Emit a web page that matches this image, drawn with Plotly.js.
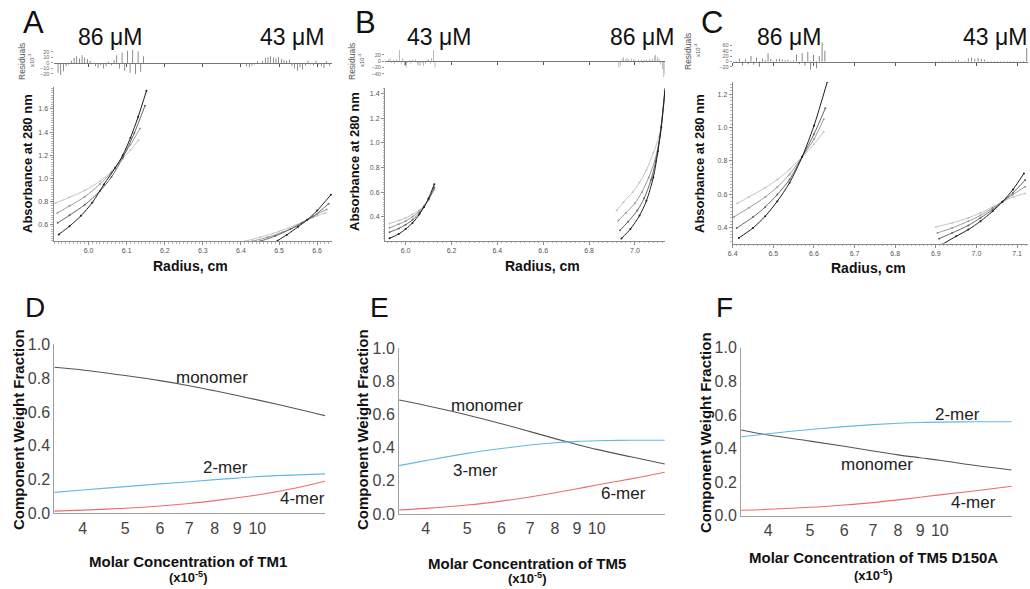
<!DOCTYPE html>
<html><head><meta charset="utf-8">
<script src="https://cdn.plot.ly/plotly-3.0.1.min.js"></script>
<style>html,body{margin:0;padding:0;background:#fff}#plot{width:1030px;height:589px}</style>
</head><body><div id="plot"></div>
<script>
// ---------- Panel A : absorbance scans (86 uM left, 43 uM right) ----------
const aL_x1 = [5.913, 5.95, 5.99, 6.03, 6.06, 6.09, 6.11, 6.131];
const aL_light = [0.786, 0.835, 0.895, 0.975, 1.06, 1.17, 1.245, 1.328];
const aL_x2 = [5.918, 5.95, 5.99, 6.03, 6.06, 6.09, 6.11, 6.135];
const aL_gray = [0.70, 0.76, 0.84, 0.95, 1.05, 1.19, 1.29, 1.43];
const aL_x3 = [5.919, 5.95, 5.99, 6.03, 6.06, 6.09, 6.12, 6.148];
const aL_dark = [0.614, 0.68, 0.77, 0.89, 1.01, 1.18, 1.39, 1.628];
const aL_x4 = [5.922, 5.95, 5.98, 6.01, 6.04, 6.07, 6.09, 6.11, 6.13, 6.152];
const aL_black = [0.514, 0.585, 0.675, 0.79, 0.945, 1.09, 1.2, 1.35, 1.53, 1.757];

const aR_x1 = [6.41, 6.45, 6.50, 6.54, 6.574, 6.60, 6.622];
const aR_light = [0.455, 0.49, 0.54, 0.59, 0.64, 0.675, 0.70];
const aR_x2 = [6.43, 6.47, 6.51, 6.55, 6.574, 6.60, 6.625];
const aR_gray = [0.455, 0.49, 0.535, 0.59, 0.64, 0.69, 0.73];
const aR_x3 = [6.45, 6.49, 6.53, 6.56, 6.59, 6.63];
const aR_dark = [0.455, 0.50, 0.56, 0.615, 0.67, 0.78];
const aR_x4 = [6.496, 6.52, 6.55, 6.574, 6.60, 6.636];
const aR_black = [0.46, 0.51, 0.58, 0.64, 0.72, 0.857];

const resA_Lx = [5.920,5.927,5.934,5.941,5.948,5.955,5.962,5.969,5.976,5.983,5.990,5.997,6.004,6.011,6.018,6.025,6.032,6.039,6.046,6.053,6.060,6.067,6.074,6.081,6.088,6.095,6.102,6.109,6.116,6.123,6.130,6.137,6.144];
const resA_Ly = [-18,-22,-15,-6,-3,4,9,12,8,14,10,7,4,-2,-6,-9,-4,-10,-6,2,-4,5,14,-10,19,-14,22,-18,24,-20,21,-16,12];
const resA_Rx = [6.415,6.422,6.429,6.436,6.443,6.450,6.457,6.464,6.471,6.478,6.485,6.492,6.499,6.506,6.513,6.520,6.527,6.534,6.541,6.548,6.555,6.562,6.569,6.576,6.583,6.590,6.597,6.604,6.611,6.618,6.625,6.632];
const resA_Ry = [-6,-8,-5,-3,3,-2,4,9,11,12,10,8,11,7,5,4,6,-6,-10,-14,-8,-12,-5,4,-3,-5,4,-3,-6,-9,3,-5];

// ---------- Panel B : absorbance scans (43 uM left, 86 uM right) ----------
const bL_x = [5.93, 5.97, 6.0, 6.03, 6.06, 6.08, 6.10, 6.125];
const bL_light = [0.345, 0.37, 0.39, 0.42, 0.455, 0.49, 0.54, 0.62];
const bL_gray = [0.31, 0.34, 0.365, 0.40, 0.445, 0.485, 0.54, 0.63];
const bL_dark = [0.275, 0.305, 0.335, 0.375, 0.43, 0.48, 0.54, 0.64];
const bL_black = [0.225, 0.26, 0.30, 0.35, 0.42, 0.48, 0.55, 0.665];

const bR_x1 = [6.92, 6.95, 6.99, 7.02, 7.05, 7.08, 7.105, 7.13];
const bR_light = [0.45, 0.52, 0.60, 0.68, 0.78, 0.92, 1.05, 1.38];
const bR_x2 = [6.928, 6.96, 7.0, 7.03, 7.06, 7.09, 7.11, 7.13];
const bR_gray = [0.37, 0.43, 0.51, 0.60, 0.72, 0.88, 1.06, 1.40];
const bR_x3 = [6.935, 6.97, 7.01, 7.04, 7.07, 7.09, 7.11, 7.13];
const bR_dark = [0.29, 0.36, 0.45, 0.55, 0.70, 0.85, 1.07, 1.42];
const bR_x4 = [6.941, 6.98, 7.02, 7.05, 7.08, 7.10, 7.115, 7.132];
const bR_black = [0.224, 0.30, 0.41, 0.53, 0.72, 0.93, 1.13, 1.46];

const resB_Lx = [5.925,5.932,5.939,5.946,5.953,5.960,5.967,5.974,5.981,5.988,5.995,6.002,6.009,6.016,6.023,6.030,6.037,6.044,6.051,6.058,6.065,6.072,6.079,6.086,6.093,6.100,6.107,6.114,6.121,6.128];
const resB_Ly = [5,8,-5,3,-8,6,-4,35,-10,10,-15,-20,-5,3,-8,5,-3,6,-10,-15,-12,-5,-15,-8,4,5,-8,10,35,-20];
const resB_Rx = [6.930,6.937,6.944,6.951,6.958,6.965,6.972,6.979,6.986,6.993,7.000,7.007,7.014,7.021,7.028,7.035,7.042,7.049,7.056,7.063,7.070,7.077,7.084,7.091,7.098,7.105,7.112,7.119,7.126,7.131];
const resB_Ry = [-20,-15,8,12,5,10,6,-4,8,5,5,-3,6,-5,4,-6,3,5,-4,6,3,8,15,20,12,8,-10,-25,-50,-40];

// ---------- Panel C : absorbance scans (86 uM left, 43 uM right) ----------
const cL_x1 = [6.411, 6.44, 6.48, 6.51, 6.54, 6.571, 6.60, 6.624];
const cL_light = [0.546, 0.585, 0.64, 0.69, 0.75, 0.825, 0.90, 0.975];
const cL_x2 = [6.403, 6.44, 6.48, 6.51, 6.54, 6.571, 6.60, 6.624];
const cL_gray = [0.466, 0.52, 0.585, 0.645, 0.72, 0.825, 0.93, 1.05];
const cL_x3 = [6.41, 6.45, 6.48, 6.51, 6.54, 6.571, 6.60, 6.628];
const cL_dark = [0.40, 0.465, 0.525, 0.60, 0.69, 0.825, 0.96, 1.115];
const cL_x4 = [6.415, 6.45, 6.48, 6.51, 6.54, 6.571, 6.60, 6.633];
const cL_black = [0.34, 0.40, 0.47, 0.56, 0.67, 0.825, 1.01, 1.274];

const cR_x1 = [6.90, 6.94, 6.98, 7.01, 7.04, 7.064, 7.09, 7.12];
const cR_light = [0.406, 0.43, 0.46, 0.49, 0.525, 0.556, 0.585, 0.606];
const cR_x2 = [6.904, 6.94, 6.98, 7.01, 7.04, 7.064, 7.09, 7.12];
const cR_gray = [0.37, 0.40, 0.44, 0.475, 0.52, 0.556, 0.60, 0.646];
const cR_x3 = [6.908, 6.94, 6.98, 7.01, 7.04, 7.064, 7.09, 7.12];
const cR_dark = [0.336, 0.37, 0.415, 0.46, 0.51, 0.556, 0.61, 0.686];
const cR_x4 = [6.916, 6.95, 6.98, 7.01, 7.04, 7.064, 7.09, 7.117];
const cR_black = [0.302, 0.35, 0.39, 0.44, 0.50, 0.556, 0.63, 0.726];

const resC_Lx = [6.410,6.417,6.424,6.431,6.438,6.445,6.452,6.459,6.466,6.473,6.480,6.487,6.494,6.501,6.508,6.515,6.522,6.529,6.536,6.543,6.550,6.557,6.564,6.571,6.578,6.585,6.592,6.599,6.606,6.613,6.620,6.627];
const resC_Ly = [-5,10,-15,8,-10,20,-12,15,-20,10,5,30,10,-5,8,10,8,5,6,-3,4,25,-10,30,-15,35,-30,25,-25,20,70,40];
const resC_Rx = [6.900,6.908,6.916,6.924,6.932,6.940,6.948,6.956,6.964,6.972,6.980,6.988,6.996,7.004,7.012,7.020,7.028,7.036,7.044,7.052,7.060,7.068,7.076,7.084,7.092,7.100,7.108,7.116,7.124];
const resC_Ry = [2,-3,3,-2,2,-3,4,5,-3,3,12,15,10,13,9,6,-3,-5,-4,-6,-3,-5,-2,-4,-6,-3,-5,-2,50];

// ---------- Panels D, E, F : component weight fractions ----------
const dX = [3.446, 4, 5, 6, 7, 8, 9, 10, 12, 14.27];
const dMonomer = [0.864, 0.848, 0.815, 0.785, 0.755, 0.725, 0.697, 0.671, 0.625, 0.578];
const d2mer = [0.124, 0.138, 0.158, 0.174, 0.187, 0.199, 0.208, 0.217, 0.226, 0.233];
const d4mer = [0.013, 0.019, 0.030, 0.043, 0.058, 0.075, 0.092, 0.108, 0.145, 0.190];

const eX = [3.47, 4, 5, 6, 7, 8, 9, 10, 12, 14.4];
const eMonomer = [0.688, 0.655, 0.598, 0.545, 0.497, 0.455, 0.420, 0.390, 0.345, 0.302];
const e3mer = [0.292, 0.322, 0.366, 0.395, 0.416, 0.430, 0.438, 0.442, 0.445, 0.445];
const e6mer = [0.024, 0.034, 0.054, 0.078, 0.103, 0.128, 0.152, 0.175, 0.212, 0.252];

const fX = [3.46, 4, 5, 6, 7, 8, 9, 10, 12, 14.68];
const fMonomer = [0.510, 0.480, 0.444, 0.413, 0.385, 0.362, 0.345, 0.330, 0.300, 0.272];
const f2mer = [0.470, 0.488, 0.513, 0.530, 0.542, 0.550, 0.555, 0.557, 0.559, 0.559];
const f4mer = [0.032, 0.038, 0.050, 0.064, 0.078, 0.094, 0.110, 0.124, 0.147, 0.175];

const logTicks = [4, 5, 6, 7, 8, 9, 10];
const logTickText = ['4', '5', '6', '7', '8', '9', '10'];

// ---------- helpers ----------
const W = 1030, H = 589;
const xd = (a, b) => [a / W, b / W];
const yd = (top, bot) => [1 - bot / H, 1 - top / H];
const SHADES = ['#c4c4c4', '#9a9a9a', '#666666', '#1e1e1e'];
const FONT = 'Liberation Sans, Arial, Helvetica, sans-serif';

const traces = [];
function scan(x, y, shade, ax) {
  traces.push({type: 'scatter', mode: 'lines+markers', x: x, y: y, xaxis: ax[0], yaxis: ax[1],
    line: {color: shade, width: 1, shape: 'spline', smoothing: 0.8},
    marker: {color: shade, size: 2}, hoverinfo: 'skip'});
}
function resid(x, y, ax) {
  traces.push({type: 'bar', x: x, y: y, xaxis: ax[0], yaxis: ax[1], width: 0.0018,
    marker: {color: '#5a5a5a', line: {width: 0}}, hoverinfo: 'skip'});
}
function frac(x, y, color, ax) {
  traces.push({type: 'scatter', mode: 'lines', x: x, y: y, xaxis: ax[0], yaxis: ax[1],
    line: {color: color, width: 1.1, shape: 'spline'}, hoverinfo: 'skip'});
}

// A
resid(resA_Lx, resA_Ly, ['x', 'y']); resid(resA_Rx, resA_Ry, ['x', 'y']);
scan(aL_x1, aL_light, SHADES[0], ['x2', 'y2']); scan(aL_x2, aL_gray, SHADES[1], ['x2', 'y2']);
scan(aL_x3, aL_dark, SHADES[2], ['x2', 'y2']); scan(aL_x4, aL_black, SHADES[3], ['x2', 'y2']);
scan(aR_x1, aR_light, SHADES[0], ['x2', 'y2']); scan(aR_x2, aR_gray, SHADES[1], ['x2', 'y2']);
scan(aR_x3, aR_dark, SHADES[2], ['x2', 'y2']); scan(aR_x4, aR_black, SHADES[3], ['x2', 'y2']);
// B
resid(resB_Lx, resB_Ly, ['x3', 'y3']); resid(resB_Rx, resB_Ry, ['x3', 'y3']);
scan(bL_x, bL_light, SHADES[0], ['x4', 'y4']); scan(bL_x, bL_gray, SHADES[1], ['x4', 'y4']);
scan(bL_x, bL_dark, SHADES[2], ['x4', 'y4']); scan(bL_x, bL_black, SHADES[3], ['x4', 'y4']);
scan(bR_x1, bR_light, SHADES[0], ['x4', 'y4']); scan(bR_x2, bR_gray, SHADES[1], ['x4', 'y4']);
scan(bR_x3, bR_dark, SHADES[2], ['x4', 'y4']); scan(bR_x4, bR_black, SHADES[3], ['x4', 'y4']);
// C
resid(resC_Lx, resC_Ly, ['x5', 'y5']); resid(resC_Rx, resC_Ry, ['x5', 'y5']);
scan(cL_x1, cL_light, SHADES[0], ['x6', 'y6']); scan(cL_x2, cL_gray, SHADES[1], ['x6', 'y6']);
scan(cL_x3, cL_dark, SHADES[2], ['x6', 'y6']); scan(cL_x4, cL_black, SHADES[3], ['x6', 'y6']);
scan(cR_x1, cR_light, SHADES[0], ['x6', 'y6']); scan(cR_x2, cR_gray, SHADES[1], ['x6', 'y6']);
scan(cR_x3, cR_dark, SHADES[2], ['x6', 'y6']); scan(cR_x4, cR_black, SHADES[3], ['x6', 'y6']);
// D E F
const MONO = '#555555', BLUE = '#62b9e6', RED = '#ef6b6b';
frac(dX, dMonomer, MONO, ['x7', 'y7']); frac(dX, d2mer, BLUE, ['x7', 'y7']); frac(dX, d4mer, RED, ['x7', 'y7']);
frac(eX, eMonomer, MONO, ['x8', 'y8']); frac(eX, e3mer, BLUE, ['x8', 'y8']); frac(eX, e6mer, RED, ['x8', 'y8']);
frac(fX, fMonomer, MONO, ['x9', 'y9']); frac(fX, f2mer, BLUE, ['x9', 'y9']); frac(fX, f4mer, RED, ['x9', 'y9']);

// axes
function scanX(dom, range, dtick, anchor) {
  return {domain: dom, range: range, dtick: dtick, tick0: 6.0, tickformat: '.1f', showgrid: false, zeroline: false,
    showline: true, linecolor: '#8a8a8a', linewidth: 1, ticks: 'outside', ticklen: 3, tickcolor: '#8a8a8a',
    minor: {ticks: 'outside', ticklen: 1.5, dtick: dtick / 10, tickcolor: '#b5b5b5'},
    tickfont: {size: 7, color: '#555', family: FONT}, anchor: anchor, fixedrange: true};
}
function scanY(dom, range, anchor) {
  return {domain: dom, range: range, dtick: 0.2, tick0: 0, tickformat: '.1f', showgrid: false, zeroline: false,
    showline: true, linecolor: '#8a8a8a', linewidth: 1, ticks: 'outside', ticklen: 3, tickcolor: '#8a8a8a',
    minor: {ticks: 'outside', ticklen: 1.5, dtick: 0.02, tickcolor: '#b5b5b5'},
    tickfont: {size: 7, color: '#555', family: FONT}, anchor: anchor, fixedrange: true};
}
function resX(dom, range, dtick, zeroPx) {
  return {domain: dom, range: range, dtick: dtick, tick0: 6.0, anchor: 'free', position: 1 - zeroPx / H,
    showgrid: false, zeroline: false, showline: true, linecolor: '#777', linewidth: 1,
    ticks: 'outside', ticklen: 3, tickcolor: '#555', showticklabels: false, fixedrange: true};
}
function resY(dom, range, tickvals, anchor) {
  return {domain: dom, range: range, tickvals: tickvals, showgrid: false, zeroline: false, showline: false,
    ticks: 'outside', ticklen: 2, tickcolor: '#999', tickfont: {size: 5.5, color: '#666', family: FONT},
    anchor: anchor, fixedrange: true};
}
function fracX(dom, range, anchor) {
  return {domain: dom, type: 'log', range: range, tickvals: logTicks, ticktext: logTickText, showgrid: false,
    zeroline: false, showline: true, linecolor: '#a0a0a0', linewidth: 1, ticks: '',
    tickfont: {size: 16, color: '#444', family: FONT}, anchor: anchor, fixedrange: true};
}
function fracY(dom, anchor) {
  return {domain: dom, range: [0, 1.0], dtick: 0.2, tickformat: '.1f', showgrid: false, zeroline: false,
    showline: true, linecolor: '#a0a0a0', linewidth: 1, ticks: '',
    tickfont: {size: 16, color: '#444', family: FONT}, anchor: anchor, fixedrange: true};
}

const ann = [];
function txt(text, px, py, size, o) {
  o = o || {};
  ann.push({text: text, x: px / W, y: 1 - py / H, xref: 'paper', yref: 'paper', showarrow: false,
    xanchor: 'center', yanchor: 'middle', textangle: o.angle || 0,
    font: {size: size, color: o.color || '#111', family: FONT}});
}
// panel letters & concentrations
txt('A', 33, 22, 31); txt('B', 365, 22, 31); txt('C', 712, 22, 31);
txt('D', 35, 307, 28); txt('E', 379, 307, 28); txt('F', 724, 307, 28);
txt('86 μM', 110, 37, 23); txt('43 μM', 292, 37, 23);
txt('43 μM', 439, 37, 23); txt('86 μM', 642, 37, 23);
txt('86 μM', 789, 37, 23); txt('43 μM', 995, 37, 23);
// residual labels
txt('Residuals', 22, 62, 8.5, {angle: -90, color: '#555'}); txt('x10<sup>-3</sup>', 31, 60, 6, {angle: -90, color: '#555'});
txt('Residuals', 352, 62, 8.5, {angle: -90, color: '#555'}); txt('x10<sup>-3</sup>', 361, 60, 6, {angle: -90, color: '#555'});
txt('Residuals', 688, 52, 8.5, {angle: -90, color: '#555'}); txt('x10<sup>-3</sup>', 697, 50, 6, {angle: -90, color: '#555'});
// scan axis titles
txt('<b>Absorbance at 280 nm</b>', 28, 164, 13, {angle: -90}); txt('<b>Radius, cm</b>', 190, 266, 14);
txt('<b>Absorbance at 280 nm</b>', 355, 162, 13, {angle: -90}); txt('<b>Radius, cm</b>', 542, 266, 14);
txt('<b>Absorbance at 280 nm</b>', 700, 164, 13, {angle: -90}); txt('<b>Radius, cm</b>', 868, 268, 14);
// fraction titles
txt('<b>Component Weight Fraction</b>', 18, 430, 15, {angle: -90});
txt('<b>Component Weight Fraction</b>', 362, 430, 15, {angle: -90});
txt('<b>Component Weight Fraction</b>', 705, 433, 15, {angle: -90});
txt('<b>Molar Concentration of TM1</b>', 188, 561, 15); txt('<b>(x10<sup>-5</sup>)</b>', 188, 577, 13);
txt('<b>Molar Concentration of TM5</b>', 527, 563, 15); txt('<b>(x10<sup>-5</sup>)</b>', 527, 578, 13);
txt('<b>Molar Concentration of TM5 D150A</b>', 873, 557, 15); txt('<b>(x10<sup>-5</sup>)</b>', 873, 575, 13);
// species labels
txt('monomer', 212, 377, 17, {color: '#222'}); txt('2-mer', 225, 468, 17, {color: '#222'}); txt('4-mer', 302, 498, 17, {color: '#222'});
txt('monomer', 487, 405, 17, {color: '#222'}); txt('3-mer', 475, 470, 17, {color: '#222'}); txt('6-mer', 623, 493, 17, {color: '#222'});
txt('2-mer', 957, 414, 17, {color: '#222'}); txt('monomer', 877, 464, 17, {color: '#222'}); txt('4-mer', 973, 502, 17, {color: '#222'});

const layout = {
  width: W, height: H, margin: {l: 0, r: 0, t: 0, b: 0}, paper_bgcolor: '#fff', plot_bgcolor: 'rgba(0,0,0,0)',
  showlegend: false, barmode: 'overlay', font: {family: FONT},
  // A
  xaxis: resX(xd(53.5, 332), [5.908, 6.639], 0.1, 63),
  yaxis: resY(yd(47, 80), [-31, 29], [-20, -10, 0, 10, 20], 'x'),
  xaxis2: scanX(xd(53.5, 332), [5.908, 6.639], 0.1, 'y2'),
  yaxis2: scanY(yd(87, 241), [0.457, 1.79], 'x2'),
  // B
  xaxis3: resX(xd(385, 665), [5.91, 7.131], 0.2, 61),
  yaxis3: resY(yd(47, 79), [-56, 44], [-40, -20, 0, 20], 'x3'),
  xaxis4: scanX(xd(385, 665), [5.91, 7.131], 0.2, 'y4'),
  yaxis4: scanY(yd(88, 240.5), [0.207, 1.447], 'x4'),
  // C
  xaxis5: resX(xd(732.7, 1028), [6.40, 7.127], 0.1, 61.5),
  yaxis5: resY(yd(41, 73), [-43, 76], [-20, 0, 20, 40, 60], 'x5'),
  xaxis6: scanX(xd(732.7, 1028), [6.40, 7.127], 0.1, 'y6'),
  yaxis6: scanY(yd(82, 243.5), [0.307, 1.272], 'x6'),
  // D E F
  xaxis7: fracX(xd(54.3, 325), [0.5373, 1.1544], 'y7'), yaxis7: fracY(yd(344.3, 513.3), 'x7'),
  xaxis8: fracX(xd(399, 665), [0.540, 1.159], 'y8'), yaxis8: fracY(yd(348.3, 514), 'x8'),
  xaxis9: fracX(xd(741, 1011.7), [0.5388, 1.1667], 'y9'), yaxis9: fracY(yd(347.7, 515.7), 'x9'),
  annotations: ann
};
Plotly.newPlot('plot', traces, layout, {displayModeBar: false, staticPlot: true});
</script></body></html>
